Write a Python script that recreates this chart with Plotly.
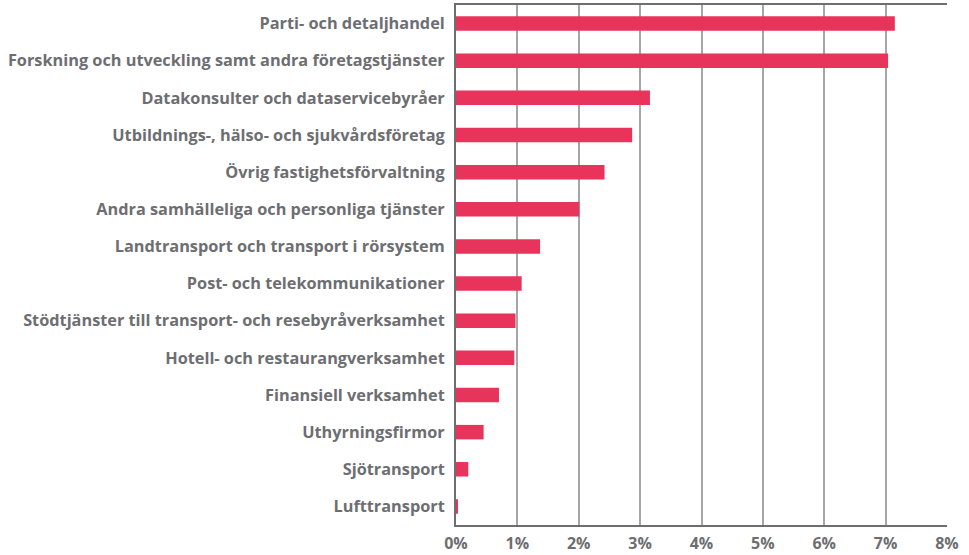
import plotly.graph_objects as go

categories = [
    "Parti- och detaljhandel",
    "Forskning och utveckling samt andra företagstjänster",
    "Datakonsulter och dataservicebyråer",
    "Utbildnings-, hälso- och sjukvårdsföretag",
    "Övrig fastighetsförvaltning",
    "Andra samhälleliga och personliga tjänster",
    "Landtransport och transport i rörsystem",
    "Post- och telekommunikationer",
    "Stödtjänster till transport- och resebyråverksamhet",
    "Hotell- och restaurangverksamhet",
    "Finansiell verksamhet",
    "Uthyrningsfirmor",
    "Sjötransport",
    "Lufttransport",
]
values = [7.15, 7.04, 3.16, 2.87, 2.42, 2.01, 1.37, 1.07, 0.97, 0.95, 0.70, 0.45, 0.20, 0.03]
x_ticks = [0, 1, 2, 3, 4, 5, 6, 7, 8]
x_tick_labels = [f"{t}%" for t in x_ticks]

BAR = "#e8345a"
TXT = "#6d6e71"
FONT = "Open Sans, Liberation Sans, Arial, sans-serif"

fig = go.Figure(go.Bar(
    x=values, y=categories, orientation="h",
    marker=dict(color=BAR, line=dict(width=0)),
))

fig.update_layout(
    width=969, height=555,
    margin=dict(l=456, r=22, t=5, b=30, autoexpand=False),
    paper_bgcolor="white", plot_bgcolor="white",
    bargap=0.61,
    showlegend=False,
    font=dict(family=FONT, color=TXT),
)
fig.update_xaxes(
    range=[0, 8], tickvals=x_ticks, ticktext=x_tick_labels,
    showgrid=True, gridcolor="#a6a6a6", gridwidth=1.5,
    showline=True, linecolor="#6d6e71", linewidth=2, mirror=True,
    tickfont=dict(family=FONT, size=16, color=TXT, weight="bold"),
    zeroline=False, ticks="", automargin=False, ticklabelstandoff=3,
)
fig.update_yaxes(
    autorange="reversed", showgrid=False,
    showline=True, linecolor="#6d6e71", linewidth=2,
    tickfont=dict(family=FONT, size=16.3, color=TXT, weight="bold"),
    ticks="", ticklabelstandoff=6, automargin=False,
)

fig.write_html(
    "out.html",
    config={"displayModeBar": False},
    post_script="document.body.style.margin='0';document.body.style.padding='0';",
)
